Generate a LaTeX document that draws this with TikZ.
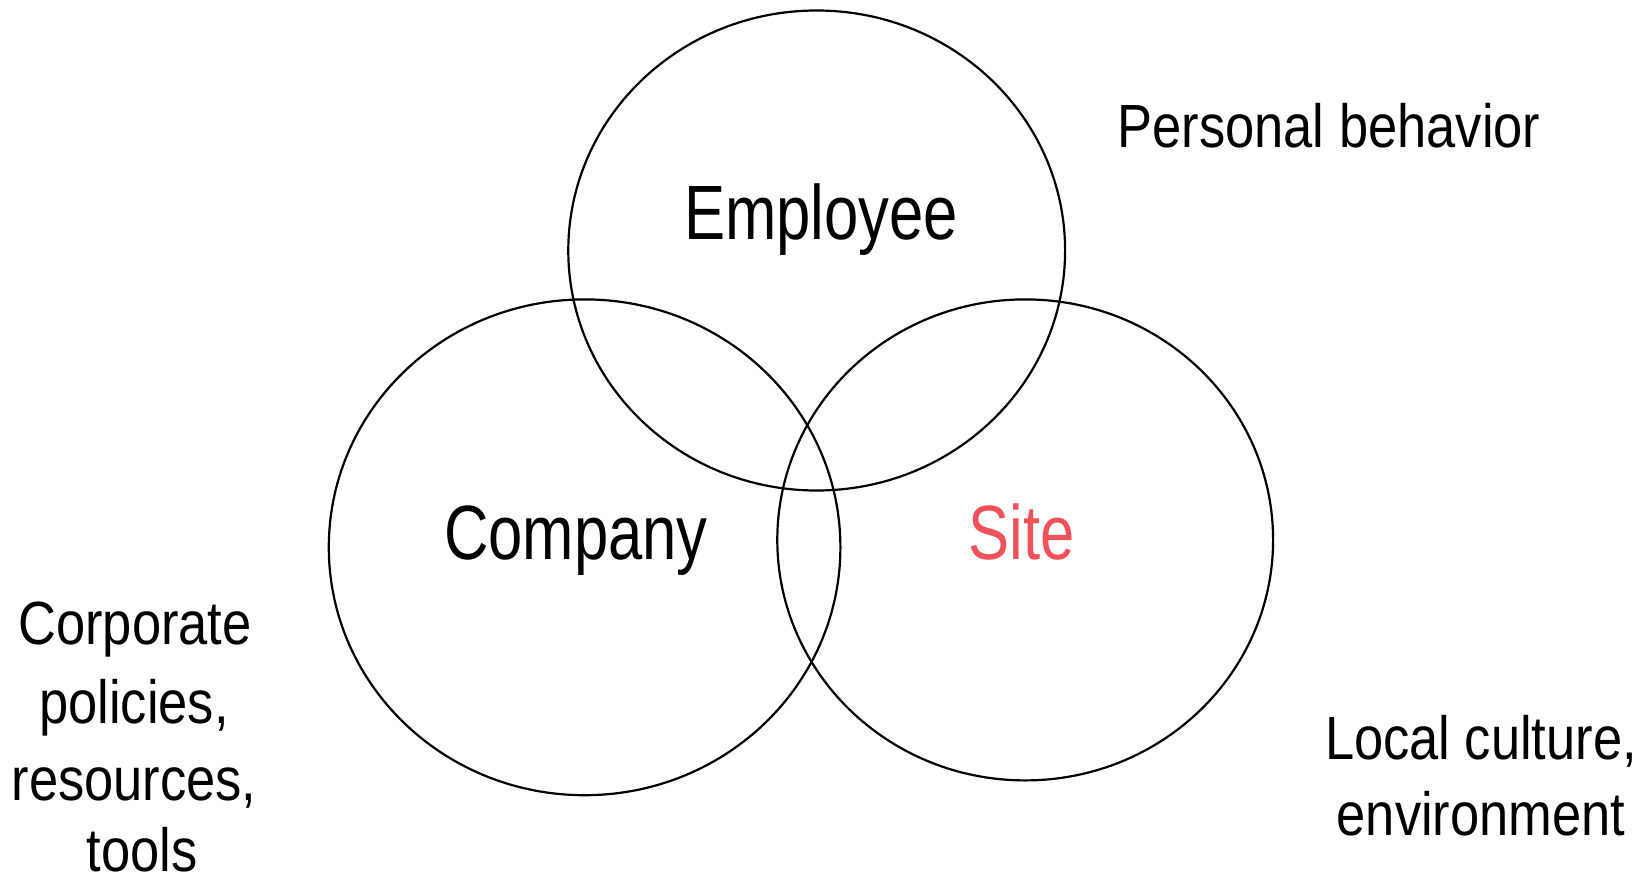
\documentclass[tikz,border=0pt]{standalone}
\usepackage{fontspec}
\setmainfont[FakeStretch=0.82]{Liberation Sans}
\newfontfamily\ringfont[FakeStretch=0.80]{Liberation Sans}
\newfontfamily\sidefont[FakeStretch=0.86]{Liberation Sans}
\definecolor{sitered}{RGB}{240,82,90}
\begin{document}
\begin{tikzpicture}[x=1pt,y=-1pt,
  ring/.style={draw=black,line width=2.2pt},
  biglabel/.style={anchor=base,inner sep=0pt,font=\ringfont\fontsize{77}{77}\selectfont},
  sidelabel/.style={anchor=base,inner sep=0pt,align=center,font=\sidefont\fontsize{61}{77}\selectfont}]
\useasboundingbox (0,0) rectangle (1647,878);
\draw[ring] (816.7,250.5) ellipse [x radius=248.4pt, y radius=240pt];
\draw[ring] (584.6,547.3) ellipse [x radius=255.8pt, y radius=247.9pt];
\draw[ring] (1025.2,539.9) ellipse [x radius=247.9pt, y radius=240.5pt];
\node[biglabel] (emp) at (821,239.5) {Employee};
\node[biglabel] (comp) at (576,559) {Company};
\node[biglabel,text=sitered] (site) at (1021.5,559) {Site};
\node[sidelabel] (pers) at (1329,147) {Personal behavior};
\node[sidelabel] (corp1) at (135,644) {Corporate};
\node[sidelabel] (corp2) at (134,723) {policies,};
\node[sidelabel] (corp3) at (134,800) {resources,};
\node[sidelabel] (corp4) at (142,871) {tools};
\node[sidelabel] (loc1) at (1481,759) {Local culture,};
\node[sidelabel] (loc2) at (1481,835) {environment};
\end{tikzpicture}
\end{document}
